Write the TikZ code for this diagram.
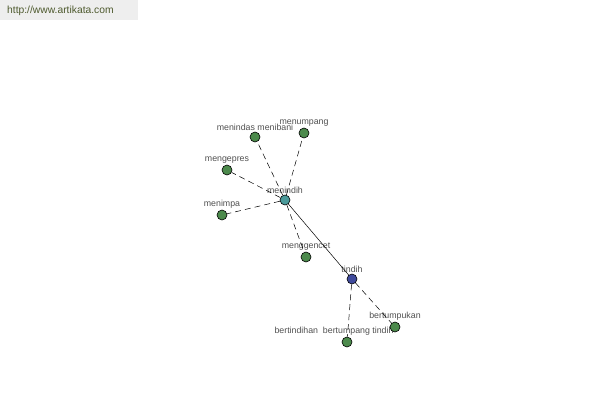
\documentclass[tikz,border=0pt]{standalone}
\usepackage{fontspec}
\setmainfont{Liberation Sans}
\usetikzlibrary{positioning}
\definecolor{wordgreen}{HTML}{4C8A4C}
\definecolor{wordteal}{HTML}{4A9A9A}
\definecolor{wordblue}{HTML}{3F4A9C}
\definecolor{urlgrey}{HTML}{EEEEEE}
\definecolor{urltext}{HTML}{4E5A2E}
\definecolor{lbltext}{HTML}{505050}
\tikzset{
    word/.style = {circle,draw,fill=wordgreen,minimum size=10pt,inner sep=0pt,line width=0.6pt},
    head/.style = {word,fill=wordteal},
    root/.style = {word,fill=wordblue},
    lbl/.style = {text=lbltext,font=\fontsize{8.8}{9}\selectfont,inner sep=0pt,label distance=1pt},
    syn/.style = {dashed,dash pattern=on 6pt off 4pt,line width=0.5pt},
    rel/.style = {line width=0.5pt}}
\begin{document}
\begin{tikzpicture}[x=1pt,y=-1pt]
        \useasboundingbox (0,0) rectangle (600,400);
        \fill[urlgrey] (0,0) rectangle (138,20);
        \node[text=urltext,font=\fontsize{10.3}{11}\selectfont,anchor=west,inner sep=0pt] (url) at (7,11) {http://www.artikata.com};
        \path (285,200) node[head,label={[lbl]90:menindih}] (menindih) {}
        + (-30,-63) node[word,label={[lbl]90:menindas menibani}] (menindas) {}
        + (19,-67) node[word,label={[lbl]90:menumpang}] (menumpang) {}
        + (-58,-30) node[word,label={[lbl]90:mengepres}] (mengepres) {}
        + (-63,15) node[word,label={[lbl]90:menimpa}] (menimpa) {}
        + (21,57) node[word,label={[lbl]90:menggencet}] (menggencet) {}
        ++ (67,79) node[root,label={[lbl]90:tindih}] (tindih) {}
        + (-5,63) node[word,label={[lbl,xshift=-13pt]90:bertindihan\ \ bertumpang tindih}] (bertindihan) {}
        + (43,48) node[word,label={[lbl]90:bertumpukan}] (bertumpukan) {};
        \draw[syn] (menindih) -- (menindas) (menindih) -- (menumpang) (menindih) -- (mengepres);
        \draw[syn] (menindih) -- (menimpa) (menindih) -- (menggencet);
        \draw[syn] (tindih) -- (bertindihan) (tindih) -- (bertumpukan);
        \draw[rel] (menindih) -- (tindih);
    \end{tikzpicture}
\end{document}
